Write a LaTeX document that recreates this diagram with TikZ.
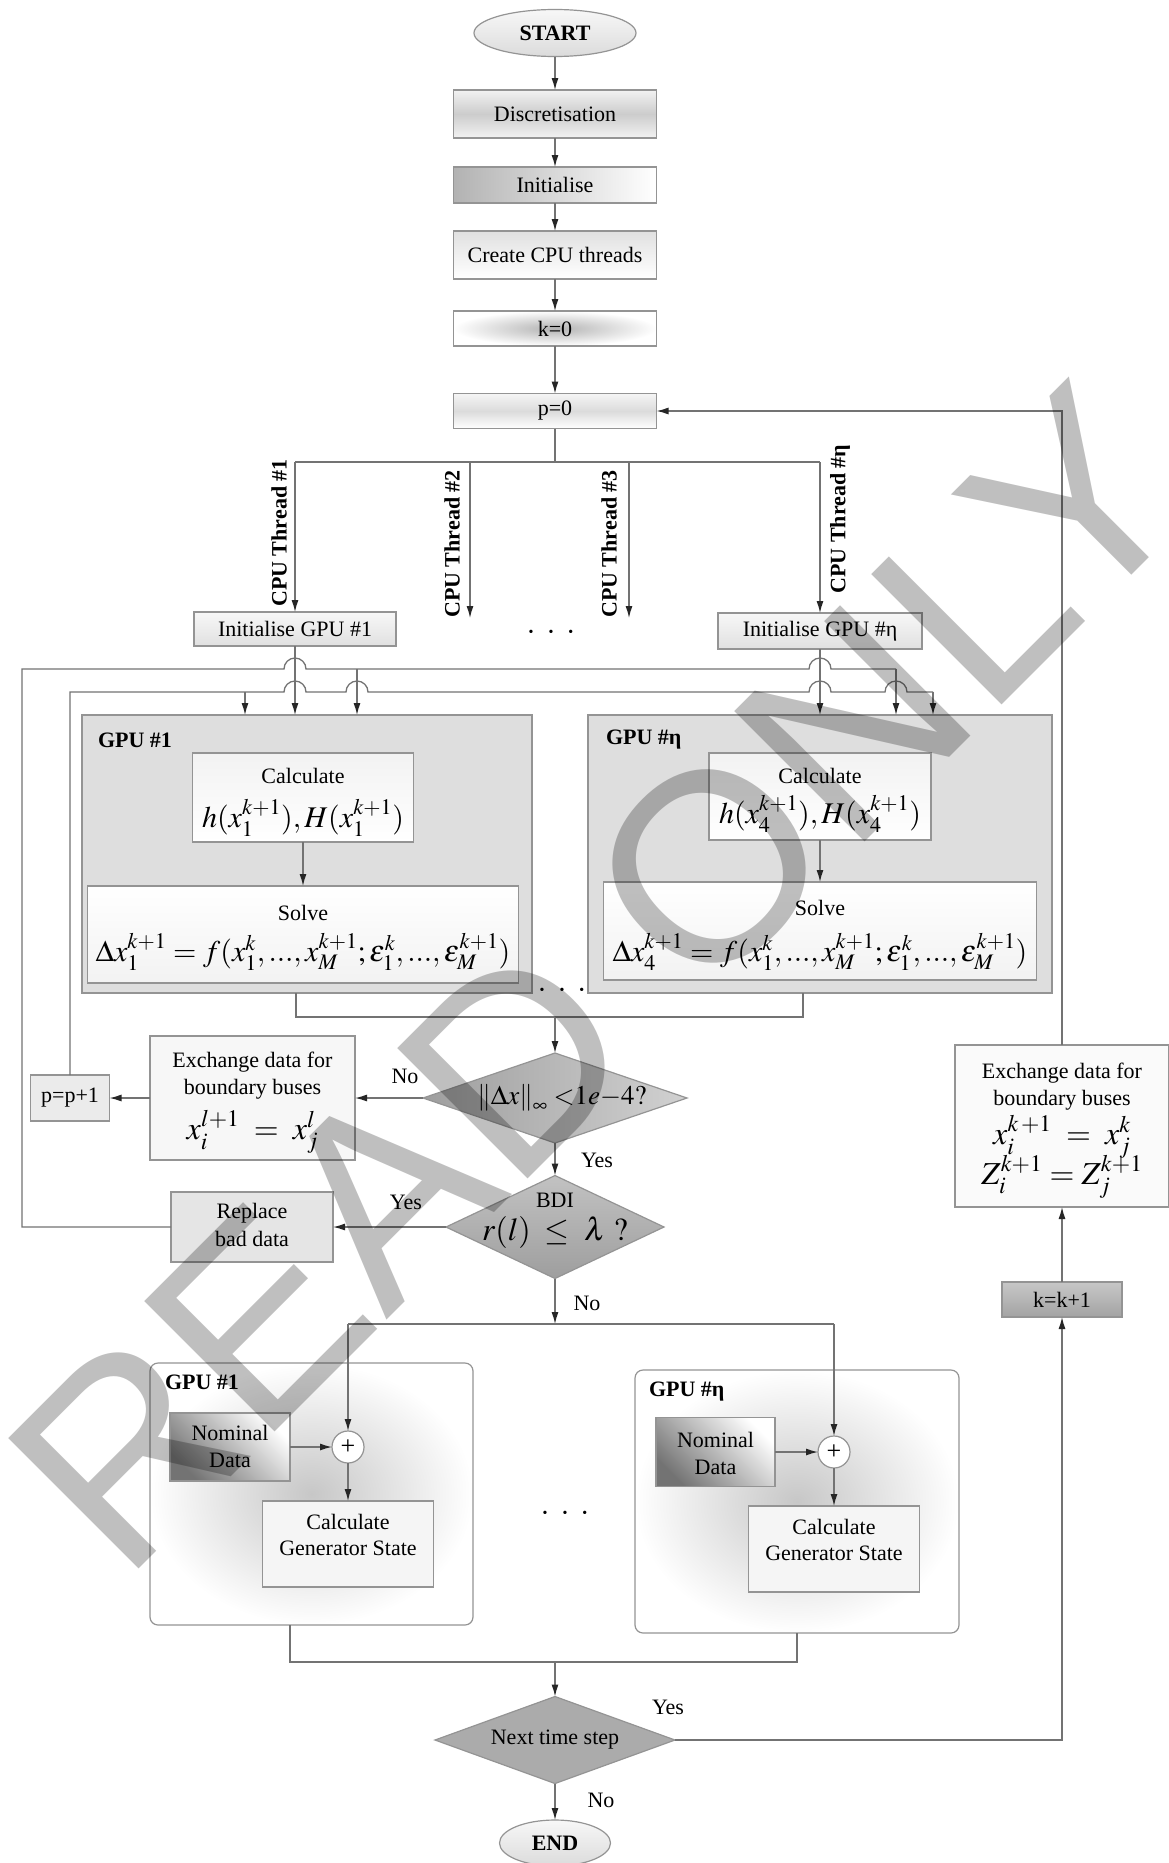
\RequirePackage{fix-cm}
\documentclass[tikz,border=0pt]{standalone}
\usepackage{mathptmx}
\usepackage{fontspec}
\setmainfont{Liberation Serif}
\newfontfamily\wmfont{Liberation Sans}
\usetikzlibrary{shapes.geometric,arrows.meta}
\begin{document}
\begin{tikzpicture}[x=1pt,y=-1pt,
  every node/.style={font=\fontsize{22}{26}\selectfont, inner sep=0pt, outer sep=0pt},
  bx/.style={draw=black!42, line width=1.2pt},
  conn/.style={draw=black!55, line width=1.3pt},
  arr/.style={conn, -{Latex[length=12pt,width=7pt,color=black!85]}},
  bt/.style={font=\fontsize{22}{26}\selectfont\bfseries},
  mth/.style={font=\fontsize{32}{36}\selectfont},
  mths/.style={font=\fontsize{30}{34}\selectfont},
  dts/.style={font=\fontsize{14}{14}\selectfont}
]
\fill[white] (0,0) rectangle (1168,1863);
\useasboundingbox (0,0) rectangle (1168,1863);

% ---------- top column ----------
\node[ellipse, bx, top color=black!3, bottom color=black!14, minimum width=162pt, minimum height=47pt, bt] (start) at (555,33) {START};
\node[bx, top color=black!5, bottom color=black!5, middle color=black!20, minimum width=203pt, minimum height=48pt] (disc) at (555,114) {Discretisation};
\node[bx, left color=black!30, right color=white, minimum width=203pt, minimum height=36pt] (init) at (555,185) {Initialise};
\node[bx, top color=black!12, bottom color=white, minimum width=203pt, minimum height=48pt] (cpu) at (555,255) {Create CPU threads};
\node[bx, inner color=black!30, outer color=white, minimum width=203pt, minimum height=35pt] (k0) at (555,328.5) {k=0};
\node[bx, top color=black!4, bottom color=white, middle color=black!14, minimum width=203pt, minimum height=35pt] (p0) at (555,411) {p=0};

\draw[arr] (start) -- (disc);
\draw[arr] (disc) -- (init);
\draw[arr] (init) -- (cpu);
\draw[arr] (cpu) -- (k0);
\draw[arr] (k0) -- (p0);

% ---------- CPU threads ----------
\coordinate (bus) at (555,462);
\coordinate (t1) at (295,462);
\coordinate (t2) at (470,462);
\coordinate (t3) at (629,462);
\coordinate (tn) at (820,462);
\coordinate (t2e) at (470,618);
\coordinate (t3e) at (629,618);

\node[bx, top color=black!3, bottom color=black!12, minimum width=202pt, minimum height=34pt] (initg1) at (295,629) {Initialise GPU \#1};
\node[bx, top color=black!3, bottom color=black!12, minimum width=204pt, minimum height=36pt] (initgn) at (820,631) {Initialise GPU \#η};

\draw[conn] (p0.south) -- (bus);
\draw[conn] (t1) -- (tn);
\draw[arr] (t1) -- (initg1.north);
\draw[arr] (t2) -- (t2e);
\draw[arr] (t3) -- (t3e);
\draw[arr] (tn) -- (initgn.north);

\node[bt, rotate=90] (l1) at (279,533) {CPU Thread \#1};
\node[bt, rotate=90] (l2) at (452,544) {CPU Thread \#2};
\node[bt, rotate=90] (l3) at (609,544) {CPU Thread \#3};
\node[bt, rotate=90] (ln) at (840,519) {CPU Thread \#η};
\node[dts] (dots1) at (551,633) {•\hspace{15pt}•\hspace{15pt}•};

% ---------- GPU boxes (iteration) ----------
\node[bx, fill=black!13, minimum width=450pt, minimum height=278pt] (gpu1) at (307,854) {};
\node[bx, fill=black!13, minimum width=464pt, minimum height=278pt] (gpun) at (820,854) {};
\node[bt, anchor=west] (g1lbl) at (98,740) {GPU \#1};
\node[bt, anchor=west] (gnlbl) at (606,740) {GPU \#η};

\node[bx, top color=black!5, bottom color=white, minimum width=221pt, minimum height=89pt] (calc1) at (303,797.5) {};
\node (calc1a) at (303,776) {Calculate};
\node[mths] (calc1b) at (303,818) {$h(x_1^{k+1}),H(x_1^{k+1})$};
\node[bx, top color=white, bottom color=black!5, minimum width=431pt, minimum height=97pt] (solve1) at (303,934.5) {};
\node (solve1a) at (303,913) {Solve};
\node[mths] (solve1b) at (303,952) {$\Delta x_1^{k+1}=f(x_1^k,...,x_M^{k+1};\varepsilon_1^k,...,\varepsilon_M^{k+1})$};
\draw[arr] (calc1) -- (solve1);

\node[bx, top color=black!5, bottom color=white, minimum width=222pt, minimum height=87pt] (calcn) at (820,796.5) {};
\node (calcna) at (820,776) {Calculate};
\node[mths] (calcnb) at (820,814) {$h(x_4^{k+1}),H(x_4^{k+1})$};
\node[bx, top color=white, bottom color=black!5, minimum width=433pt, minimum height=98pt] (solven) at (820,931) {};
\node (solvena) at (820,908) {Solve};
\node[mths] (solvenb) at (820,952) {$\Delta x_4^{k+1}=f(x_1^k,...,x_M^{k+1};\varepsilon_1^k,...,\varepsilon_M^{k+1})$};
\draw[arr] (calcn) -- (solven);

\node[dts] (dots2) at (562,991) {•\hspace{15pt}•\hspace{15pt}•};

% ---------- checks ----------
\node[diamond, bx, left color=black!38, right color=black!18, minimum width=264pt, minimum height=90pt] (d1) at (555,1098) {};
\node[font=\fontsize{27}{31}\selectfont] (d1t) at (562,1098) {$\left\|\Delta x\right\|_\infty\,{<}1e{-}4?$};

\node[bx, fill=black!3, minimum width=205pt, minimum height=124pt] (exl) at (252.5,1098) {};
\node (exl1) at (252.5,1062) {Exchange data for};
\node (exl2) at (252.5,1089) {boundary buses};
\node[mth] (exl3) at (252.5,1132) {$x_i^{l+1}\;=\;x_j^l$};

\node[bx, fill=black!8, minimum width=79pt, minimum height=46pt] (pp1) at (70,1098) {p=p+1};

\node[diamond, bx, top color=black!24, bottom color=black!38, minimum width=218pt, minimum height=103pt] (d2) at (555,1227) {};
\node (d2a) at (555,1200) {BDI};
\node[mth] (d2b) at (555,1232) {$r(l)\;\le\;\lambda\ ?$};

\node[bx, fill=black!10, minimum width=162pt, minimum height=70pt] (rep) at (252,1227) {};
\node (rep1) at (252,1213) {Replace};
\node (rep2) at (252,1239) {bad data};

\coordinate (j1) at (296,1017);
\coordinate (jn) at (803,1017);
\coordinate (jc) at (555,1017);
\draw[conn] (gpu1.south -| j1) -- (j1) -- (jn) -- (gpun.south -| jn);
\draw[arr] (jc) -- (d1.north);
\draw[arr] (d1.west) -- (exl.east);
\draw[arr] (exl) -- (pp1);
\draw[arr] (d1) -- (d2);
\draw[arr] (d2.west) -- (rep.east);

\node (no1) at (405,1076) {No};
\node (yes1) at (597,1160) {Yes};
\node (yes2) at (406,1202) {Yes};
\node (no2) at (587,1303) {No};

% ---------- loop lines ----------
\coordinate (uL) at (22,669);
\coordinate (lL) at (70,692);
\coordinate (uB) at (357,669);
\coordinate (lB) at (245,692);
\coordinate (uR) at (896,669);
\coordinate (lR) at (933,692);

\draw[arr] (initg1) -- (initg1.south |- gpu1.north);
\draw[arr] (initgn) -- (initgn.south |- gpun.north);

\draw[conn] (pp1.north) -- (lL) -- (284,692) arc[start angle=180,end angle=0,radius=11pt]
  -- (346,692) arc[start angle=180,end angle=0,radius=11pt]
  -- (809,692) arc[start angle=180,end angle=0,radius=11pt]
  -- (885,692) arc[start angle=180,end angle=0,radius=11pt] -- (lR);
\draw[arr] (lR) -- (lR |- gpun.north);
\draw[arr] (lB) -- (lB |- gpu1.north);

\draw[conn] (rep.west) -| (uL) -- (284,669) arc[start angle=180,end angle=0,radius=11pt]
  -- (809,669) arc[start angle=180,end angle=0,radius=11pt] -- (uR);
\draw[arr] (uR) -- (uR |- gpun.north);
\draw[arr] (uB) -- (uB |- gpu1.north);

% ---------- generator state ----------
\coordinate (h1) at (348,1324);
\coordinate (hn) at (834,1324);
\coordinate (hc) at (555,1324);

\node[bx, rounded corners=8pt, inner color=black!22, outer color=white, minimum width=323pt, minimum height=262pt] (gb1) at (311.5,1494) {};
\node[bt, anchor=west] (gb1l) at (165,1382) {GPU \#1};
\node[bx, top color=white, bottom color=black!55, shading angle=-45, minimum width=120pt, minimum height=68pt] (nom1) at (230,1447) {};
\node (nom1a) at (230,1433) {Nominal};
\node (nom1b) at (230,1460) {Data};
\node[circle, bx, fill=white, minimum size=32pt] (c1) at (348,1447) {\fontsize{26}{26}\selectfont +};
\node[bx, fill=black!4, minimum width=171pt, minimum height=86pt] (cg1) at (348,1544) {};
\node (cg1a) at (348,1522) {Calculate};
\node (cg1b) at (348,1548) {Generator State};

\node[bx, rounded corners=8pt, inner color=black!22, outer color=white, minimum width=324pt, minimum height=263pt] (gbn) at (797,1501.5) {};
\node[bt, anchor=west] (gbnl) at (649,1392) {GPU \#η};
\node[bx, top color=white, bottom color=black!55, shading angle=-45, minimum width=119pt, minimum height=69pt] (nomn) at (715.5,1452) {};
\node (nomna) at (715.5,1440) {Nominal};
\node (nomnb) at (715.5,1467) {Data};
\node[circle, bx, fill=white, minimum size=32pt] (cn) at (834,1452) {\fontsize{26}{26}\selectfont +};
\node[bx, fill=black!4, minimum width=171pt, minimum height=86pt] (cgn) at (834,1549) {};
\node (cgna) at (834,1527) {Calculate};
\node (cgnb) at (834,1553) {Generator State};

\node[dts] (dots3) at (565,1514) {•\hspace{15pt}•\hspace{15pt}•};

\draw[arr] (d2.south) -- (hc);
\draw[conn] (h1) -- (hn);
\draw[arr] (h1) -- (c1.north);
\draw[arr] (hn) -- (cn.north);
\draw[arr] (nom1) -- (c1);
\draw[arr] (c1) -- (cg1);
\draw[arr] (nomn) -- (cn);
\draw[arr] (cn) -- (cgn);

% ---------- bottom ----------
\coordinate (b1) at (290,1662);
\coordinate (bn) at (797,1662);
\coordinate (bc) at (555,1662);
\node[diamond, bx, aspect=2.76, fill=black!33, minimum width=240pt, minimum height=87pt] (d3) at (555,1740) {Next time step};
\node[ellipse, bx, top color=black!3, bottom color=black!14, minimum width=111pt, minimum height=46pt, bt] (fin) at (555,1843) {END};
\draw[conn] (gb1.south -| b1) -- (b1) -- (bn) -- (gbn.south -| bn);
\draw[arr] (bc) -- (d3.north);
\draw[arr] (d3) -- (fin);
\node (yes3) at (668,1707) {Yes};
\node (no3) at (601,1800) {No};

% ---------- right column ----------
\node[bx, top color=black!22, bottom color=black!36, minimum width=120pt, minimum height=35pt] (kk1) at (1062,1299.5) {k=k+1};
\node[bx, fill=black!2, minimum width=214pt, minimum height=162pt] (exr) at (1062,1126) {};
\node (exr1) at (1062,1073) {Exchange data for};
\node (exr2) at (1062,1100) {boundary buses};
\node[mth] (exr3) at (1062,1137) {$x_i^{k\,+1}\;=\;x_j^k$};
\node[mth] (exr4) at (1062,1177) {$Z_i^{k+1}=Z_j^{k+1}$};

\draw[arr] (d3.east) -| (kk1.south);
\draw[arr] (kk1) -- (exr);
\draw[arr] (exr.north) |- (p0.east);

% ---------- watermark ----------
\node[rotate=45, anchor=base west, font=\wmfont\fontsize{268}{268}\selectfont, text=black, text opacity=0.25] (wm) at (123,1584) {READ ONLY};
\end{tikzpicture}
\end{document}
